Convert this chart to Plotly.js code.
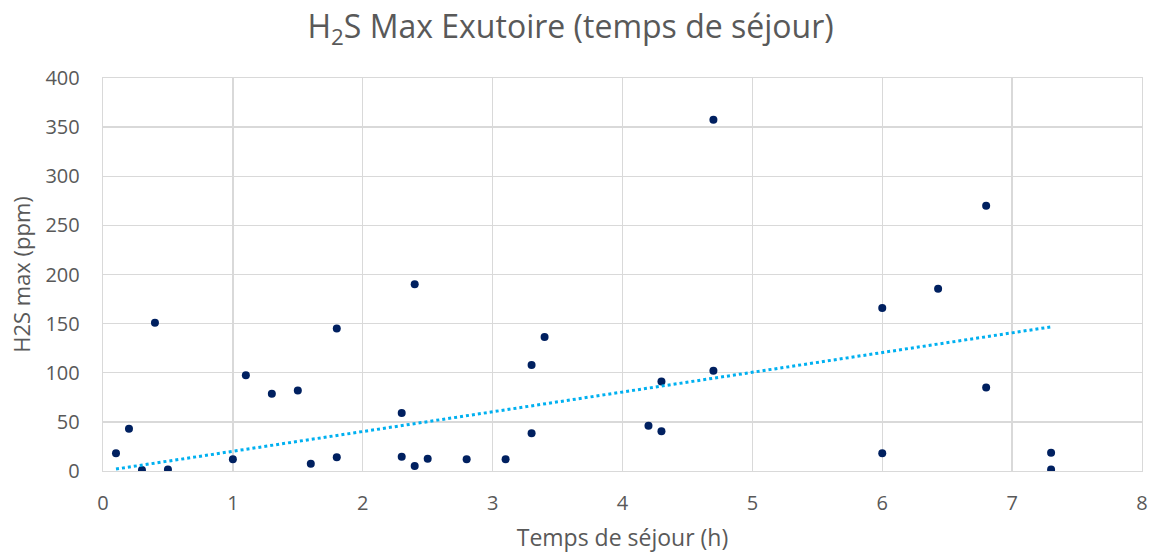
<!DOCTYPE html>
<html>
<head>
<meta charset="utf-8">
<script src="https://cdn.plot.ly/plotly-3.0.1.min.js"></script>
<style>html,body{margin:0;padding:0;background:#fff;}#chart{width:1155px;height:558px;}</style>
</head>
<body>
<div id="chart"></div>
<script>
const tempsSejour = [0.1,0.2,0.3,0.4,0.5,1.0,1.1,1.3,1.5,1.6,1.8,1.8,2.3,2.3,2.4,2.4,2.5,2.8,3.1,3.3,3.3,3.4,4.2,4.3,4.3,4.7,4.7,6.0,6.0,6.43,6.8,6.8,7.3,7.3];
const h2sMax =     [18,43,1,151,1.5,12,97.5,78.5,82,7.5,145,14,59,14.5,190,5,12.5,12,12,108,38.5,136.5,46,91,40.5,357.5,102,166,18,185.5,270,85,18.5,1.5];
const xTicks = [0,1,2,3,4,5,6,7,8];
const yTicks = [0,50,100,150,200,250,300,350,400];
// Linear trendline as drawn in the reference (end points)
const trendX = [0.1, 7.3];
const trendY = [2, 146.7];

const font = '"Open Sans", "Noto Sans", sans-serif';
const data = [
  {x: tempsSejour, y: h2sMax, type:'scatter', mode:'markers',
   marker:{color:'#002060', size:8}, showlegend:false},
  {x: trendX, y: trendY, type:'scatter', mode:'lines',
   line:{color:'#00B0F0', width:3, dash:'dot'}, showlegend:false}
];
const axisCommon = {showgrid:true, gridcolor:'#d9d9d9', gridwidth:1.3, zeroline:false, showline:true,
  linecolor:'#d9d9d9', linewidth:1.3, mirror:true, ticks:'', ticklen:0, tickfont:{size:20, color:'#595959'}};
const layout = {
  width:1155, height:558,
  margin:{l:103, r:13, t:78, b:87},
  paper_bgcolor:'#fff', plot_bgcolor:'#fff',
  font:{family:font, color:'#595959', size:20},
  title:{text:'H<sub>2</sub>S Max Exutoire (temps de séjour)', font:{family:font, size:32, color:'#595959'},
         x:0.494, xref:'container', y:1-27/558, yref:'container', yanchor:'middle'},
  xaxis:Object.assign({}, axisCommon, {range:[0,8], tickvals:xTicks, ticktext:xTicks.map(String), ticklabelstandoff:14,
         title:{text:'Temps de séjour (h)', font:{size:23, color:'#595959'}, standoff:14}}),
  yaxis:Object.assign({}, axisCommon, {range:[0,400], tickvals:yTicks, ticktext:yTicks.map(String), ticklabelstandoff:18,
         title:{text:'H2S max (ppm)', font:{size:22, color:'#595959'}, standoff:8}})
};
Plotly.newPlot('chart', data, layout, {displayModeBar:false, staticPlot:true});
</script>
</body>
</html>
